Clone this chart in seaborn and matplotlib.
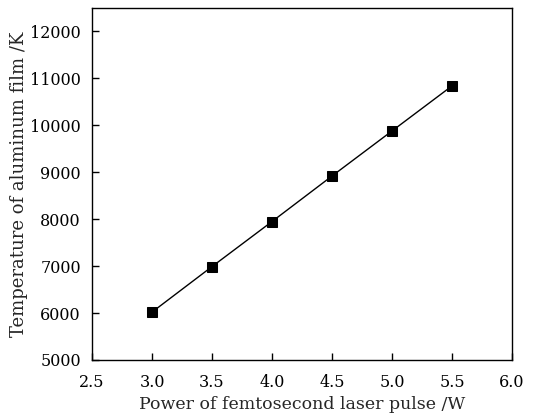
import matplotlib
matplotlib.use("Agg")
import matplotlib.pyplot as plt
import seaborn as sns
import pandas as pd

power = [3.0, 3.5, 4.0, 4.5, 5.0, 5.5]
temperature = [6020, 6990, 7950, 8920, 9880, 10840]
xticks = [2.5, 3.0, 3.5, 4.0, 4.5, 5.0, 5.5, 6.0]
yticks = [5000, 6000, 7000, 8000, 9000, 10000, 11000, 12000]

sns.set_theme(style="ticks")
plt.rcParams['font.family'] = ['DejaVu Serif']
plt.rcParams['mathtext.fontset'] = 'dejavuserif'

df = pd.DataFrame({"power": power, "temperature": temperature})

fig = plt.figure(figsize=(5.47, 4.17), dpi=100)
ax = fig.add_axes([92/547, 1-360/417, 420/547, 352/417])
sns.lineplot(data=df, x="power", y="temperature", ax=ax, color="black",
             linewidth=1.0, marker="s", markersize=6.5, markeredgecolor="black",
             markerfacecolor="black")
ax.set_xlim(2.5, 6.0)
ax.set_ylim(5000, 12500)
ax.set_xticks(xticks)
ax.set_xticklabels([f"{t:.1f}" for t in xticks])
ax.set_yticks(yticks)
ax.set_yticklabels([str(t) for t in yticks])
ax.tick_params(direction="in", length=5, width=1, labelsize=11.5, colors="black")
ax.tick_params(axis="x", pad=10)
ax.tick_params(axis="y", pad=8)
for s in ax.spines.values():
    s.set_linewidth(1.0)
    s.set_color("black")
ax.set_xlabel("Power of femtosecond laser pulse /W", fontsize=12.5, labelpad=4)
ax.set_ylabel("Temperature of aluminum film /K", fontsize=13, labelpad=1.5)
fig.savefig("out.png", dpi=100)
